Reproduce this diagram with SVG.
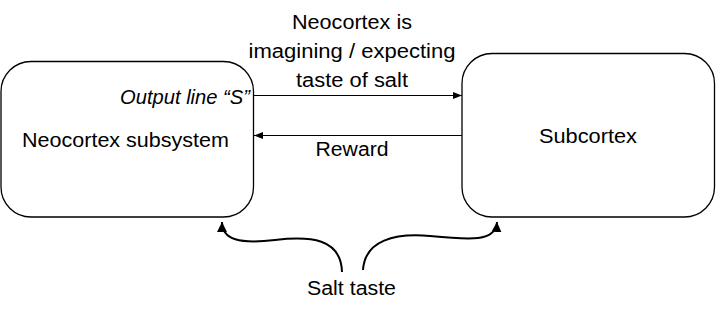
<svg xmlns="http://www.w3.org/2000/svg" width="716" height="317" viewBox="0 0 716 317">
<defs>
<style>
.box{fill:#fff;stroke:#000;stroke-width:1.3}
.t{font-family:"Liberation Sans",Arial,sans-serif;font-size:20px;fill:#000}
.c{text-anchor:middle}
.ln{fill:none;stroke:#000;stroke-width:1.2}
.cv{fill:none;stroke:#000;stroke-width:2}
</style>
<marker id="ah" viewBox="0 0 10 10" refX="10" refY="5" markerWidth="9" markerHeight="9" markerUnits="userSpaceOnUse" orient="auto">
<path d="M0,1 L10,5 L0,9 z" fill="#000"/>
</marker>
<marker id="ah2" viewBox="0 0 10 10" refX="10" refY="5" markerWidth="10" markerHeight="10" markerUnits="userSpaceOnUse" orient="auto">
<path d="M0,0 L10,5 L0,10 z" fill="#000"/>
</marker>
</defs>
<rect width="716" height="317" fill="#fff"/>
<g id="neocortex">
<rect class="box" x="1" y="61.5" width="252.5" height="155.5" rx="30"/>
<text class="t" x="22" y="147" font-size="20.5" textLength="207" lengthAdjust="spacingAndGlyphs">Neocortex subsystem</text>
<text class="t" x="250" y="104" text-anchor="end" font-style="italic" font-size="17" textLength="130" lengthAdjust="spacingAndGlyphs">Output line “S”</text>
</g>
<g id="subcortex">
<rect class="box" x="462" y="53.5" width="252.5" height="163.5" rx="30"/>
<text class="t" x="539" y="143" textLength="98" lengthAdjust="spacingAndGlyphs">Subcortex</text>
</g>
<g id="salt">
<text class="t" x="307" y="295" textLength="89" lengthAdjust="spacingAndGlyphs">Salt taste</text>
</g>
<g id="connectors">
<path class="ln" d="M253.5,95.5 H462" marker-end="url(#ah)"/>
<path class="ln" d="M462,135.5 H254" marker-end="url(#ah)"/>
<path class="cv" d="M342,272 C341,238 310,236 275,240 C240,244 222,240 222,222" marker-end="url(#ah2)"/>
<path class="cv" d="M363,270 C365,240 395,233 430,236 C470,240 496,242 497,222" marker-end="url(#ah2)"/>
<text class="t c" x="352" y="29" textLength="120" lengthAdjust="spacingAndGlyphs">Neocortex is</text>
<text class="t c" x="352" y="58" textLength="207" lengthAdjust="spacingAndGlyphs">imagining / expecting</text>
<text class="t c" x="352" y="87" textLength="112" lengthAdjust="spacingAndGlyphs">taste of salt</text>
<text class="t c" x="352" y="156" textLength="73" lengthAdjust="spacingAndGlyphs">Reward</text>
</g>
</svg>
